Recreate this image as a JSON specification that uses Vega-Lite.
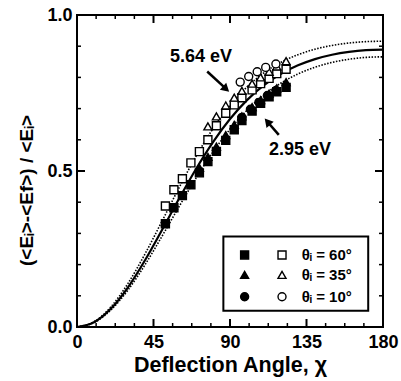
{
  "$schema": "https://vega.github.io/schema/vega-lite/v6.json",
  "width": 306,
  "height": 312,
  "autosize": {"type": "none"},
  "padding": {"left": 77, "top": 15, "right": 18, "bottom": 54},
  "background": "white",
  "config": {
    "view": {"stroke": "black", "strokeWidth": 2},
    "font": "Liberation Sans",
    "axis": {
      "grid": false, "domain": false, "ticks": false,
      "labelFont": "Liberation Sans", "labelFontWeight": "bold", "labelFontSize": 18, "labelColor": "black",
      "labelFlush": false, "labelOverlap": false,
      "titleFont": "Liberation Sans", "titleFontWeight": "bold", "titleFontSize": 21.5, "titleColor": "black"
    }
  },
  "datasets": {
    "fit": [
      {"angle": 0, "value": 0}, {"angle": 10, "value": 0.0151}, {"angle": 20, "value": 0.059}, {"angle": 30, "value": 0.1273},
      {"angle": 40, "value": 0.2139}, {"angle": 50, "value": 0.311}, {"angle": 60, "value": 0.4108}, {"angle": 70, "value": 0.5065},
      {"angle": 80, "value": 0.5928}, {"angle": 90, "value": 0.6667}, {"angle": 100, "value": 0.7271}, {"angle": 110, "value": 0.7749},
      {"angle": 120, "value": 0.8114}, {"angle": 130, "value": 0.8387}, {"angle": 140, "value": 0.8587}, {"angle": 150, "value": 0.8727},
      {"angle": 160, "value": 0.8819}, {"angle": 170, "value": 0.8872}, {"angle": 180, "value": 0.8889}
    ],
    "bounds": [
      {"curve": "upper", "angle": 0, "value": 0}, {"curve": "upper", "angle": 10, "value": 0.0166}, {"curve": "upper", "angle": 20, "value": 0.0648},
      {"curve": "upper", "angle": 30, "value": 0.1397}, {"curve": "upper", "angle": 40, "value": 0.2341}, {"curve": "upper", "angle": 50, "value": 0.3391},
      {"curve": "upper", "angle": 60, "value": 0.4459}, {"curve": "upper", "angle": 70, "value": 0.5467}, {"curve": "upper", "angle": 80, "value": 0.6358},
      {"curve": "upper", "angle": 90, "value": 0.7102}, {"curve": "upper", "angle": 100, "value": 0.7694}, {"curve": "upper", "angle": 110, "value": 0.8148},
      {"curve": "upper", "angle": 120, "value": 0.8485}, {"curve": "upper", "angle": 130, "value": 0.8729}, {"curve": "upper", "angle": 140, "value": 0.8904},
      {"curve": "upper", "angle": 150, "value": 0.9024}, {"curve": "upper", "angle": 160, "value": 0.9102}, {"curve": "upper", "angle": 170, "value": 0.9146},
      {"curve": "upper", "angle": 180, "value": 0.916},
      {"curve": "lower", "angle": 0, "value": 0}, {"curve": "lower", "angle": 10, "value": 0.014}, {"curve": "lower", "angle": 20, "value": 0.0548},
      {"curve": "lower", "angle": 30, "value": 0.1185}, {"curve": "lower", "angle": 40, "value": 0.1994}, {"curve": "lower", "angle": 50, "value": 0.2908},
      {"curve": "lower", "angle": 60, "value": 0.3854}, {"curve": "lower", "angle": 70, "value": 0.4771}, {"curve": "lower", "angle": 80, "value": 0.561},
      {"curve": "lower", "angle": 90, "value": 0.6339}, {"curve": "lower", "angle": 100, "value": 0.6947}, {"curve": "lower", "angle": 110, "value": 0.7437},
      {"curve": "lower", "angle": 120, "value": 0.7819}, {"curve": "lower", "angle": 130, "value": 0.811}, {"curve": "lower", "angle": 140, "value": 0.8326},
      {"curve": "lower", "angle": 150, "value": 0.848}, {"curve": "lower", "angle": 160, "value": 0.8582}, {"curve": "lower", "angle": 170, "value": 0.8641},
      {"curve": "lower", "angle": 180, "value": 0.866}
    ],
    "points": [
      {"energy": "2.95 eV", "theta": "60", "angle": 52, "value": 0.331},
      {"energy": "2.95 eV", "theta": "60", "angle": 57, "value": 0.382},
      {"energy": "2.95 eV", "theta": "60", "angle": 62, "value": 0.421},
      {"energy": "2.95 eV", "theta": "60", "angle": 67, "value": 0.456},
      {"energy": "2.95 eV", "theta": "60", "angle": 72, "value": 0.494},
      {"energy": "2.95 eV", "theta": "60", "angle": 77, "value": 0.53},
      {"energy": "2.95 eV", "theta": "60", "angle": 82, "value": 0.563},
      {"energy": "2.95 eV", "theta": "60", "angle": 87.5, "value": 0.598},
      {"energy": "2.95 eV", "theta": "60", "angle": 92.5, "value": 0.632},
      {"energy": "2.95 eV", "theta": "60", "angle": 97, "value": 0.662},
      {"energy": "2.95 eV", "theta": "60", "angle": 103, "value": 0.692},
      {"energy": "2.95 eV", "theta": "60", "angle": 108, "value": 0.717},
      {"energy": "2.95 eV", "theta": "60", "angle": 113, "value": 0.738},
      {"energy": "2.95 eV", "theta": "60", "angle": 117.5, "value": 0.754},
      {"energy": "2.95 eV", "theta": "60", "angle": 123, "value": 0.768},
      {"energy": "2.95 eV", "theta": "35", "angle": 72, "value": 0.51},
      {"energy": "2.95 eV", "theta": "35", "angle": 77, "value": 0.545},
      {"energy": "2.95 eV", "theta": "35", "angle": 82, "value": 0.578},
      {"energy": "2.95 eV", "theta": "35", "angle": 87.5, "value": 0.615},
      {"energy": "2.95 eV", "theta": "35", "angle": 92.5, "value": 0.648},
      {"energy": "2.95 eV", "theta": "35", "angle": 97, "value": 0.675},
      {"energy": "2.95 eV", "theta": "35", "angle": 103, "value": 0.705},
      {"energy": "2.95 eV", "theta": "35", "angle": 108, "value": 0.727},
      {"energy": "2.95 eV", "theta": "35", "angle": 113, "value": 0.748},
      {"energy": "2.95 eV", "theta": "35", "angle": 117.5, "value": 0.765},
      {"energy": "2.95 eV", "theta": "35", "angle": 123, "value": 0.785},
      {"energy": "2.95 eV", "theta": "10", "angle": 97, "value": 0.672},
      {"energy": "2.95 eV", "theta": "10", "angle": 102, "value": 0.698},
      {"energy": "2.95 eV", "theta": "10", "angle": 107, "value": 0.72},
      {"energy": "2.95 eV", "theta": "10", "angle": 112, "value": 0.742},
      {"energy": "2.95 eV", "theta": "10", "angle": 117, "value": 0.758},
      {"energy": "5.64 eV", "theta": "60", "angle": 52, "value": 0.388},
      {"energy": "5.64 eV", "theta": "60", "angle": 57, "value": 0.44},
      {"energy": "5.64 eV", "theta": "60", "angle": 62, "value": 0.475},
      {"energy": "5.64 eV", "theta": "60", "angle": 67, "value": 0.526},
      {"energy": "5.64 eV", "theta": "60", "angle": 72, "value": 0.562},
      {"energy": "5.64 eV", "theta": "60", "angle": 77, "value": 0.6},
      {"energy": "5.64 eV", "theta": "60", "angle": 82, "value": 0.645},
      {"energy": "5.64 eV", "theta": "60", "angle": 87.5, "value": 0.685},
      {"energy": "5.64 eV", "theta": "60", "angle": 92.5, "value": 0.712},
      {"energy": "5.64 eV", "theta": "60", "angle": 97, "value": 0.735},
      {"energy": "5.64 eV", "theta": "60", "angle": 103, "value": 0.76},
      {"energy": "5.64 eV", "theta": "60", "angle": 108, "value": 0.78},
      {"energy": "5.64 eV", "theta": "60", "angle": 113, "value": 0.797},
      {"energy": "5.64 eV", "theta": "60", "angle": 117.5, "value": 0.812},
      {"energy": "5.64 eV", "theta": "60", "angle": 123, "value": 0.826},
      {"energy": "5.64 eV", "theta": "35", "angle": 77, "value": 0.643},
      {"energy": "5.64 eV", "theta": "35", "angle": 82, "value": 0.675},
      {"energy": "5.64 eV", "theta": "35", "angle": 87.5, "value": 0.71},
      {"energy": "5.64 eV", "theta": "35", "angle": 92.5, "value": 0.735},
      {"energy": "5.64 eV", "theta": "35", "angle": 97, "value": 0.757},
      {"energy": "5.64 eV", "theta": "35", "angle": 103, "value": 0.78},
      {"energy": "5.64 eV", "theta": "35", "angle": 108, "value": 0.8},
      {"energy": "5.64 eV", "theta": "35", "angle": 113, "value": 0.818},
      {"energy": "5.64 eV", "theta": "35", "angle": 117.5, "value": 0.835},
      {"energy": "5.64 eV", "theta": "35", "angle": 123, "value": 0.852},
      {"energy": "5.64 eV", "theta": "10", "angle": 96, "value": 0.785},
      {"energy": "5.64 eV", "theta": "10", "angle": 101, "value": 0.803},
      {"energy": "5.64 eV", "theta": "10", "angle": 106, "value": 0.818},
      {"energy": "5.64 eV", "theta": "10", "angle": 111, "value": 0.832},
      {"energy": "5.64 eV", "theta": "10", "angle": 117, "value": 0.843}
    ],
    "legendBox": [{"a1": 86.1, "a2": 171.3, "v1": 0.052, "v2": 0.29}],
    "legendSymbols": [
      {"energy": "2.95 eV", "theta": "60", "angle": 98.6, "value": 0.231},
      {"energy": "5.64 eV", "theta": "60", "angle": 120.6, "value": 0.231},
      {"energy": "2.95 eV", "theta": "35", "angle": 98.6, "value": 0.167},
      {"energy": "5.64 eV", "theta": "35", "angle": 120.6, "value": 0.167},
      {"energy": "2.95 eV", "theta": "10", "angle": 98.6, "value": 0.097},
      {"energy": "5.64 eV", "theta": "10", "angle": 120.6, "value": 0.097}
    ],
    "legendLabels": [
      {"label": "θᵢ = 60°", "angle": 132.2, "value": 0.231},
      {"label": "θᵢ = 35°", "angle": 132.2, "value": 0.167},
      {"label": "θᵢ = 10°", "angle": 132.2, "value": 0.097}
    ],
    "notes": [
      {"label": "5.64 eV", "angle": 72.9, "value": 0.864},
      {"label": "2.95 eV", "angle": 131.2, "value": 0.568}
    ],
    "arrows": [
      {"a1": 76.6, "v1": 0.819, "a2": 87.7, "v2": 0.763},
      {"a1": 118.7, "v1": 0.616, "a2": 112.0, "v2": 0.658}
    ],
    "head1": [{"angle": 87.7, "value": 0.763}],
    "head2": [{"angle": 112.0, "value": 0.658}],
    "xMajorBottom": [{"t": 45, "v": 0}, {"t": 90, "v": 0}, {"t": 135, "v": 0}],
    "xMajorTop": [{"t": 45, "v": 1}, {"t": 90, "v": 1}, {"t": 135, "v": 1}],
    "xMinorBottom": [{"t": 11.25, "v": 0}, {"t": 22.5, "v": 0}, {"t": 33.75, "v": 0}, {"t": 56.25, "v": 0}, {"t": 67.5, "v": 0}, {"t": 78.75, "v": 0}, {"t": 101.25, "v": 0}, {"t": 112.5, "v": 0}, {"t": 123.75, "v": 0}, {"t": 146.25, "v": 0}, {"t": 157.5, "v": 0}, {"t": 168.75, "v": 0}],
    "xMinorTop": [{"t": 11.25, "v": 1}, {"t": 22.5, "v": 1}, {"t": 33.75, "v": 1}, {"t": 56.25, "v": 1}, {"t": 67.5, "v": 1}, {"t": 78.75, "v": 1}, {"t": 101.25, "v": 1}, {"t": 112.5, "v": 1}, {"t": 123.75, "v": 1}, {"t": 146.25, "v": 1}, {"t": 157.5, "v": 1}, {"t": 168.75, "v": 1}],
    "yMajorLeft": [{"t": 0.5, "a": 0}],
    "yMajorRight": [{"t": 0.5, "a": 180}],
    "yMinorLeft": [{"t": 0.1, "a": 0}, {"t": 0.2, "a": 0}, {"t": 0.3, "a": 0}, {"t": 0.4, "a": 0}, {"t": 0.6, "a": 0}, {"t": 0.7, "a": 0}, {"t": 0.8, "a": 0}, {"t": 0.9, "a": 0}],
    "yMinorRight": [{"t": 0.1, "a": 180}, {"t": 0.2, "a": 180}, {"t": 0.3, "a": 180}, {"t": 0.4, "a": 180}, {"t": 0.6, "a": 180}, {"t": 0.7, "a": 180}, {"t": 0.8, "a": 180}, {"t": 0.9, "a": 180}]
  },
  "layer": [
    {
      "data": {"name": "fit"},
      "mark": {"type": "line", "color": "black", "strokeWidth": 2.2, "interpolate": "monotone"},
      "encoding": {
        "x": {"field": "angle", "type": "quantitative", "scale": {"domain": [0, 180], "nice": false},
          "axis": {"orient": "bottom", "values": [0, 45, 90, 135, 180], "labelPadding": 6, "title": "Deflection Angle,  χ", "titlePadding": 3}},
        "y": {"field": "value", "type": "quantitative", "scale": {"domain": [0, 1], "nice": false},
          "axis": {"orient": "left", "values": [0, 0.5, 1], "format": ".1f", "labelPadding": 5, "title": "(<Eᵢ>-<Ef>) / <Eᵢ>", "titleFontSize": 19, "titlePadding": 10, "titleY": 175}}
      }
    },
    {
      "data": {"name": "bounds"},
      "mark": {"type": "line", "color": "black", "strokeWidth": 1.6, "strokeDash": [1.5, 1.5], "interpolate": "monotone"},
      "encoding": {
        "detail": {"field": "curve"},
        "x": {"field": "angle", "type": "quantitative"},
        "y": {"field": "value", "type": "quantitative"}
      }
    },
    {
      "data": {"name": "xMajorBottom"},
      "mark": {"type": "tick", "orient": "vertical", "color": "black", "size": 8, "thickness": 2, "yOffset": -4, "opacity": 1},
      "encoding": {"x": {"field": "t", "type": "quantitative"}, "y": {"field": "v", "type": "quantitative"}}
    },
    {
      "data": {"name": "xMajorTop"},
      "mark": {"type": "tick", "orient": "vertical", "color": "black", "size": 8, "thickness": 2, "yOffset": 4, "opacity": 1},
      "encoding": {"x": {"field": "t", "type": "quantitative"}, "y": {"field": "v", "type": "quantitative"}}
    },
    {
      "data": {"name": "xMinorBottom"},
      "mark": {"type": "tick", "orient": "vertical", "color": "black", "size": 4, "thickness": 1.5, "yOffset": -2, "opacity": 1},
      "encoding": {"x": {"field": "t", "type": "quantitative"}, "y": {"field": "v", "type": "quantitative"}}
    },
    {
      "data": {"name": "xMinorTop"},
      "mark": {"type": "tick", "orient": "vertical", "color": "black", "size": 4, "thickness": 1.5, "yOffset": 2, "opacity": 1},
      "encoding": {"x": {"field": "t", "type": "quantitative"}, "y": {"field": "v", "type": "quantitative"}}
    },
    {
      "data": {"name": "yMajorLeft"},
      "mark": {"type": "tick", "orient": "horizontal", "color": "black", "size": 8, "thickness": 2, "xOffset": 4, "opacity": 1},
      "encoding": {"y": {"field": "t", "type": "quantitative"}, "x": {"field": "a", "type": "quantitative"}}
    },
    {
      "data": {"name": "yMajorRight"},
      "mark": {"type": "tick", "orient": "horizontal", "color": "black", "size": 8, "thickness": 2, "xOffset": -4, "opacity": 1},
      "encoding": {"y": {"field": "t", "type": "quantitative"}, "x": {"field": "a", "type": "quantitative"}}
    },
    {
      "data": {"name": "yMinorLeft"},
      "mark": {"type": "tick", "orient": "horizontal", "color": "black", "size": 4, "thickness": 1.5, "xOffset": 2, "opacity": 1},
      "encoding": {"y": {"field": "t", "type": "quantitative"}, "x": {"field": "a", "type": "quantitative"}}
    },
    {
      "data": {"name": "yMinorRight"},
      "mark": {"type": "tick", "orient": "horizontal", "color": "black", "size": 4, "thickness": 1.5, "xOffset": -2, "opacity": 1},
      "encoding": {"y": {"field": "t", "type": "quantitative"}, "x": {"field": "a", "type": "quantitative"}}
    },
    {
      "data": {"name": "points"},
      "mark": {"type": "point", "filled": true, "stroke": "black", "strokeWidth": 1.4, "opacity": 1},
      "encoding": {
        "x": {"field": "angle", "type": "quantitative"},
        "y": {"field": "value", "type": "quantitative"},
        "shape": {"field": "theta", "type": "nominal", "scale": {"domain": ["60", "35", "10"], "range": ["square", "triangle-up", "circle"]}, "legend": null},
        "fill": {"field": "energy", "type": "nominal", "scale": {"domain": ["2.95 eV", "5.64 eV"], "range": ["black", "white"]}, "legend": null},
        "size": {"value": 64}
      }
    },
    {
      "data": {"name": "legendBox"},
      "mark": {"type": "rect", "fill": "white", "stroke": "black", "strokeWidth": 2},
      "encoding": {
        "x": {"field": "a1", "type": "quantitative"},
        "x2": {"field": "a2"},
        "y": {"field": "v1", "type": "quantitative"},
        "y2": {"field": "v2"}
      }
    },
    {
      "data": {"name": "legendSymbols"},
      "mark": {"type": "point", "filled": true, "stroke": "black", "strokeWidth": 1.4, "opacity": 1},
      "encoding": {
        "x": {"field": "angle", "type": "quantitative"},
        "y": {"field": "value", "type": "quantitative"},
        "shape": {"field": "theta", "type": "nominal", "legend": null},
        "fill": {"field": "energy", "type": "nominal", "legend": null},
        "size": {"value": 64}
      }
    },
    {
      "data": {"name": "legendLabels"},
      "mark": {"type": "text", "align": "left", "baseline": "middle", "font": "Liberation Sans", "fontWeight": "bold", "fontSize": 15, "color": "black"},
      "encoding": {
        "x": {"field": "angle", "type": "quantitative"},
        "y": {"field": "value", "type": "quantitative"},
        "text": {"field": "label"}
      }
    },
    {
      "data": {"name": "notes"},
      "mark": {"type": "text", "align": "center", "baseline": "middle", "font": "Liberation Sans", "fontWeight": "bold", "fontSize": 18, "color": "black"},
      "encoding": {
        "x": {"field": "angle", "type": "quantitative"},
        "y": {"field": "value", "type": "quantitative"},
        "text": {"field": "label"}
      }
    },
    {
      "data": {"name": "arrows"},
      "mark": {"type": "rule", "color": "black", "strokeWidth": 2.5},
      "encoding": {
        "x": {"field": "a1", "type": "quantitative"},
        "x2": {"field": "a2"},
        "y": {"field": "v1", "type": "quantitative"},
        "y2": {"field": "v2"}
      }
    },
    {
      "data": {"name": "head1"},
      "mark": {"type": "point", "shape": "triangle-up", "filled": true, "color": "black", "opacity": 1, "size": 90, "angle": 132},
      "encoding": {
        "x": {"field": "angle", "type": "quantitative"},
        "y": {"field": "value", "type": "quantitative"}
      }
    },
    {
      "data": {"name": "head2"},
      "mark": {"type": "point", "shape": "triangle-up", "filled": true, "color": "black", "opacity": 1, "size": 90, "angle": 319},
      "encoding": {
        "x": {"field": "angle", "type": "quantitative"},
        "y": {"field": "value", "type": "quantitative"}
      }
    }
  ]
}
